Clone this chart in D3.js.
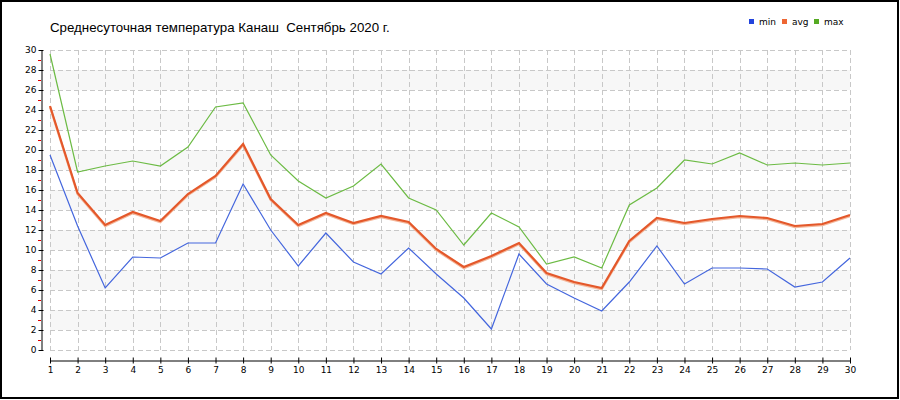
<!DOCTYPE html>
<html><head><meta charset="utf-8">
<script src="https://cdn.jsdelivr.net/npm/d3@7"></script>
<style>body{margin:0;background:#fff}svg{display:block}</style>
</head><body><svg id="c" width="900" height="400"></svg>
<script>
const title = "Среднесуточная температура Канаш  Сентябрь 2020 г.";
const days = d3.range(1, 31);
const minT = [19.5,12.4,6.2,9.3,9.2,10.7,10.7,16.6,12.0,8.4,11.7,8.8,7.6,10.2,7.6,5.2,2.1,9.6,6.6,5.2,3.9,6.8,10.4,6.6,8.2,8.2,8.1,6.3,6.8,9.2];
const avgT = [24.4,15.7,12.5,13.8,12.9,15.6,17.4,20.6,15.1,12.5,13.7,12.7,13.4,12.8,10.1,8.3,9.4,10.7,7.7,6.8,6.2,10.9,13.2,12.7,13.1,13.4,13.2,12.4,12.6,13.5];
const maxT = [29.6,17.8,18.4,18.9,18.4,20.3,24.3,24.7,19.5,16.9,15.2,16.4,18.6,15.2,14.0,10.5,13.7,12.3,8.6,9.3,8.2,14.5,16.2,19.0,18.6,19.7,18.5,18.7,18.5,18.7];
const yTicks = d3.range(0, 31, 2);
const seriesNames = ["min","avg","max"];

const svg = d3.select("#c");
const x = d3.scaleLinear().domain([1,30]).range([50,850]);
const y = d3.scaleLinear().domain([0,30]).range([350,50]);

svg.append("rect").attr("x",1).attr("y",1).attr("width",897).attr("height",397)
  .attr("fill","#fff").attr("stroke","#000").attr("stroke-width",2);

// bands
const bands = d3.range(2, 30, 4);
svg.append("g").selectAll("rect").data(bands).join("rect")
  .attr("x", x(1)).attr("width", x(30)-x(1))
  .attr("y", d=>y(d+2)).attr("height", d=>y(d)-y(d+2))
  .attr("fill","#f7f7f7");

// grid
const grid = svg.append("g").attr("stroke","#c8c8c8").attr("stroke-dasharray","5,3").attr("stroke-width",1);
grid.selectAll("line.h").data(yTicks).join("line").attr("class","h")
  .attr("x1",x(1)).attr("x2",x(30)).attr("y1",d=>y(d)+0.5).attr("y2",d=>y(d)+0.5);
grid.selectAll("line.v").data(days).join("line").attr("class","v")
  .attr("x1",d=>Math.round(x(d))+0.5).attr("x2",d=>Math.round(x(d))+0.5).attr("y1",y(30)).attr("y2",y(0));

// y axis
const yAxis = svg.append("g").attr("transform","translate(41.5,0)")
  .call(d3.axisLeft(y).tickValues(yTicks).tickSize(3).tickPadding(2).tickSizeOuter(0));
yAxis.select(".domain").attr("stroke","#000");
yAxis.selectAll(".tick line").attr("x2",-3).attr("x1",2).attr("stroke","#000");
yAxis.selectAll("text").attr("font-family","DejaVu Sans").attr("font-size",9).attr("fill","#000");
svg.append("g").selectAll("line").data(d3.range(1,30,2)).join("line")
  .attr("x1",38).attr("x2",41).attr("y1",d=>y(d)+0.5).attr("y2",d=>y(d)+0.5)
  .attr("stroke","#e00000");

// x axis
const xAxis = svg.append("g").attr("transform","translate(0,360.5)")
  .call(d3.axisBottom(x).tickValues(days).tickFormat(d3.format("d")).tickSize(3).tickPadding(3).tickSizeOuter(0));
xAxis.selectAll(".tick line").attr("y1",-3).attr("y2",3).attr("stroke","#000");
xAxis.select(".domain").attr("stroke","#000");
xAxis.selectAll("text").attr("font-family","DejaVu Sans").attr("font-size",9).attr("fill","#000");

const line = d3.line().x((d,i)=>x(days[i])).y(d=>y(d));
svg.append("path").datum(maxT).attr("d",line).attr("fill","none").attr("stroke","#6cbb44").attr("stroke-width",1.2);
svg.append("path").datum(avgT).attr("d",line).attr("fill","none").attr("stroke","#f4b89c").attr("stroke-width",2.2).attr("transform","translate(0,1.2)");
svg.append("path").datum(avgT).attr("d",line).attr("fill","none").attr("stroke","#e4582a").attr("stroke-width",2.2);
svg.append("path").datum(minT).attr("d",line).attr("fill","none").attr("stroke","#4466dd").attr("stroke-width",1.2);

// title
svg.append("text").attr("x",50).attr("y",32).attr("font-family","Liberation Sans, Arial").attr("font-size",13.3)
  .attr("fill","#000").style("white-space","pre").attr("xml:space","preserve").text(title);

// legend
const legColors = ["#2244dd","#ee6633","#55aa22"];
const legX = [749,782,814];
const leg = svg.append("g");
seriesNames.forEach((n,i)=>{
  leg.append("rect").attr("x",legX[i]).attr("y",19).attr("width",5).attr("height",5).attr("fill",legColors[i]);
  leg.append("text").attr("x",legX[i]+10).attr("y",25).attr("font-family","DejaVu Sans").attr("font-size",9).attr("fill","#000").text(n);
});
</script></body></html>
